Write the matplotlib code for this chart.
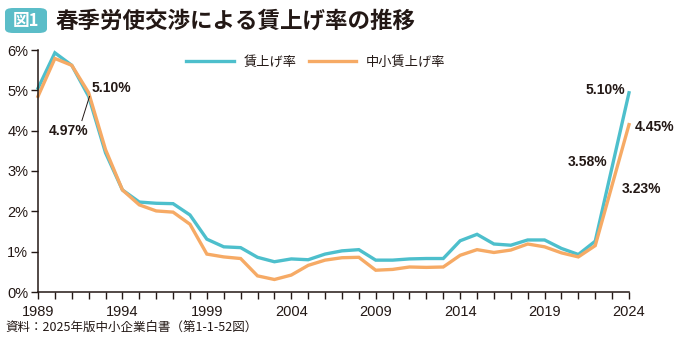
import matplotlib
matplotlib.use("Agg")
import matplotlib.pyplot as plt
from matplotlib.patches import FancyBboxPatch

plt.rcParams['font.family'] = ['Noto Sans CJK JP', 'DejaVu Sans']

# データ
years = list(range(1989, 2025))
chinage = [5.05, 5.93, 5.62, 4.85, 3.45, 2.53, 2.23, 2.20, 2.19, 1.91,
           1.31, 1.12, 1.10, 0.86, 0.75, 0.82, 0.80, 0.94, 1.02, 1.05,
           0.79, 0.79, 0.82, 0.83, 0.83, 1.27, 1.43, 1.19, 1.16, 1.29,
           1.29, 1.08, 0.93, 1.26, 3.10, 4.94]
chusho = [4.85, 5.79, 5.62, 4.94, 3.53, 2.53, 2.16, 2.01, 1.98, 1.68,
          0.94, 0.87, 0.83, 0.40, 0.31, 0.42, 0.66, 0.79, 0.85, 0.86,
          0.54, 0.56, 0.62, 0.61, 0.62, 0.91, 1.05, 0.98, 1.04, 1.19,
          1.12, 0.97, 0.87, 1.15, 2.65, 4.15]
xticks = [1989, 1994, 1999, 2004, 2009, 2014, 2019, 2024]
yticks = [0, 1, 2, 3, 4, 5, 6]

blue = '#4dbfcc'
orange = '#f6aa65'
ink = '#231815'

fig = plt.figure(figsize=(6.8, 3.45), dpi=100)
ax = fig.add_axes([38/680, 53/345, 591/680, 242/345])

ax.plot(years, chinage, color=blue, lw=2.4, label='賃上げ率', solid_joinstyle='miter', clip_on=False)
ax.plot(years, chusho, color=orange, lw=2.4, label='中小賃上げ率', solid_joinstyle='miter', clip_on=False)

ax.set_xlim(1989, 2024)
ax.set_ylim(0, 6)
ax.set_xticks(range(1989, 2025), minor=True)
ax.set_xticks(xticks)
ax.set_xticklabels([str(y) for y in xticks], fontsize=10.5, color=ink, family='Liberation Sans')
ax.set_yticks(yticks)
ax.set_yticklabels([f'{v}%' for v in yticks], fontsize=10.5, color=ink, family='Liberation Sans')
ax.tick_params(axis='x', which='both', direction='out', length=5, width=1, color=ink, pad=4)
ax.tick_params(axis='y', direction='out', length=5, width=1, color=ink, pad=2)
for s in ['top', 'right']:
    ax.spines[s].set_visible(False)
for s in ['left', 'bottom']:
    ax.spines[s].set_color(ink)
    ax.spines[s].set_linewidth(1.1)

leg = ax.legend(loc='center left', bbox_to_anchor=((188 - 38 - 7) / 591, (292 - 62) / 242),
                ncol=2, frameon=False, fontsize=9.5, handlelength=3.6,
                columnspacing=0.9, handletextpad=0.75, borderaxespad=0)
for t in leg.get_texts():
    t.set_color(ink)

# 注記
bold = dict(fontsize=10, fontweight='bold', color=ink, family='Liberation Sans')
ax.text(1992.2, 5.07, '5.10%', ha='left', va='center', **bold)
ax.text(1990.8, 3.99, '4.97%', ha='center', va='center', **bold)
ax.plot([1991.6, 1992.05], [4.25, 4.85], color=ink, lw=0.7)
ax.text(2023.8, 5.0, '5.10%', ha='right', va='center', **bold)
ax.text(2024.35, 4.09, '4.45%', ha='left', va='center', **bold)
ax.text(2022.7, 3.22, '3.58%', ha='right', va='center', **bold)
ax.text(2023.55, 2.55, '3.23%', ha='left', va='center', **bold)

# タイトル
box = FancyBboxPatch((5/680, (345-33)/345), 42/680, 25/345,
                     boxstyle='round,pad=0,rounding_size=0.012',
                     transform=fig.transFigure, fc='#5bbdc8', ec='none')
fig.patches.append(box)
fig.text(26/680, (345-21)/345, '図1', ha='center', va='center', fontsize=12,
         color='white', fontweight='bold')
fig.text(56/680, (345-21)/345, '春季労使交渉による賃上げ率の推移', ha='left', va='center',
         fontsize=16.2, color=ink, fontweight='bold')

fig.text(5/680, (345-327)/345, '資料：2025年版中小企業白書（第1-1-52図）', ha='left', va='center',
         fontsize=9, color=ink)

fig.savefig('out.png', dpi=100)
